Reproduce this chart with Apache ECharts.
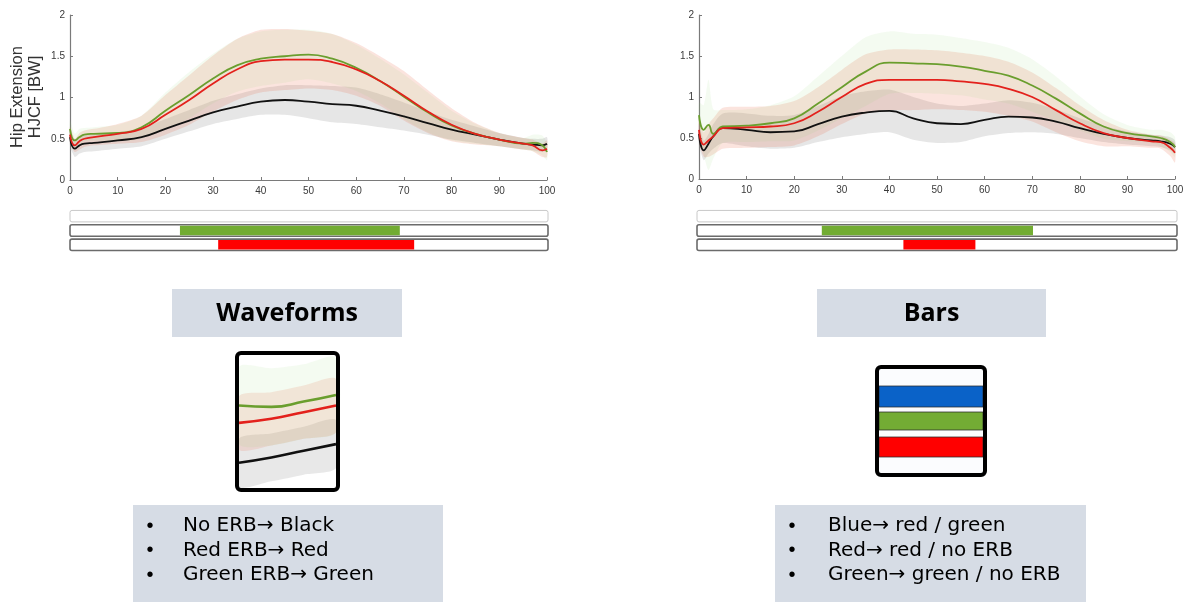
<!DOCTYPE html>
<html>
<head>
<meta charset="utf-8">
<title>Hip Extension HJCF – ERB display</title>
<script src="https://cdn.jsdelivr.net/npm/echarts@6/dist/echarts.min.js"></script>
<style>
  html, body { margin: 0; padding: 0; background: #fff; }
  #chart { width: 1192px; height: 602px; }
</style>
</head>
<body>
<div id="chart"></div>
<script>
// Gait cycle samples (% of cycle)
const cycle = [0, 1, 2, 3, 5, 10, 15, 20, 25, 30, 35, 40, 45, 50, 55, 60, 65, 70, 75, 80, 85, 90, 95, 97, 99, 100];

// Waveforms panel: mean curves [BW] and standard deviations
const waveNoErb    = [0.52,0.38,0.42,0.44,0.45,0.48,0.52,0.62,0.72,0.82,0.89,0.95,0.97,0.95,0.92,0.90,0.84,0.77,0.69,0.61,0.55,0.49,0.44,0.43,0.42,0.44];
const waveRedErb   = [0.55,0.42,0.47,0.50,0.52,0.56,0.62,0.79,0.97,1.17,1.34,1.44,1.46,1.46,1.43,1.34,1.20,1.02,0.83,0.67,0.56,0.49,0.44,0.42,0.36,0.38];
const waveGreenErb = [0.62,0.48,0.52,0.55,0.56,0.57,0.64,0.84,1.03,1.23,1.39,1.47,1.50,1.52,1.47,1.36,1.20,1.01,0.82,0.66,0.56,0.49,0.44,0.45,0.42,0.34];
const waveNoErbSd    = [0.10,0.10,0.10,0.10,0.10,0.10,0.11,0.12,0.13,0.14,0.15,0.16,0.18,0.20,0.22,0.22,0.20,0.17,0.14,0.12,0.10,0.08,0.07,0.07,0.08,0.08];
const waveRedErbSd   = [0.10,0.08,0.10,0.10,0.10,0.12,0.16,0.24,0.30,0.34,0.37,0.38,0.37,0.35,0.34,0.32,0.30,0.30,0.26,0.20,0.13,0.08,0.07,0.07,0.08,0.10];
const waveGreenErbSd = [0.10,0.08,0.10,0.08,0.08,0.10,0.14,0.22,0.28,0.30,0.32,0.33,0.32,0.30,0.30,0.28,0.27,0.27,0.24,0.18,0.12,0.08,0.07,0.10,0.12,0.10];

// Bars panel: mean curves [BW] and standard deviations
const barsNoErb    = [0.55,0.35,0.43,0.52,0.62,0.60,0.57,0.58,0.67,0.76,0.81,0.83,0.74,0.68,0.67,0.72,0.76,0.75,0.70,0.62,0.55,0.50,0.47,0.46,0.43,0.39];
const barsRedErb   = [0.60,0.42,0.47,0.52,0.62,0.63,0.64,0.68,0.82,1.00,1.16,1.21,1.21,1.21,1.19,1.16,1.10,1.00,0.84,0.68,0.56,0.50,0.46,0.45,0.38,0.32];
const barsGreenErb = [0.78,0.60,0.66,0.55,0.64,0.65,0.68,0.74,0.92,1.12,1.31,1.42,1.41,1.40,1.37,1.32,1.26,1.14,0.98,0.80,0.64,0.56,0.52,0.50,0.45,0.39];
const barsNoErbSd    = [0.12,0.12,0.12,0.15,0.18,0.20,0.20,0.20,0.22,0.25,0.26,0.26,0.26,0.24,0.22,0.20,0.20,0.18,0.15,0.12,0.10,0.08,0.07,0.07,0.08,0.08];
const barsRedErbSd   = [0.15,0.15,0.20,0.22,0.25,0.25,0.25,0.27,0.30,0.33,0.36,0.37,0.37,0.36,0.35,0.34,0.33,0.30,0.27,0.22,0.16,0.10,0.08,0.08,0.10,0.12];
const barsGreenErbSd = [0.15,0.30,0.55,0.30,0.20,0.20,0.22,0.27,0.33,0.38,0.42,0.38,0.36,0.36,0.35,0.35,0.34,0.32,0.27,0.21,0.15,0.10,0.08,0.10,0.12,0.12];

// Axis ticks
const xTicks = [0, 10, 20, 30, 40, 50, 60, 70, 80, 90, 100];
const yTicks = [0, 0.5, 1, 1.5, 2];

// Significance bars under each panel: [row, start %, end %] (row 0 = top)
const waveSigGreen = [1, 23, 69];
const waveSigRed   = [2, 31, 72];
const barsSigGreen = [1, 26, 70];
const barsSigRed   = [2, 43, 58];

// Close-up of the waveform display (arbitrary vertical units)
const zoomX        = [0, 1, 2, 3];
const zoomGreen    = [6.2, 6.1, 6.5, 7.0];
const zoomRed      = [4.9, 5.2, 5.7, 6.2];
const zoomBlack    = [1.9, 2.3, 2.8, 3.3];
const zoomGreenSd  = [2.9, 2.9, 2.8, 2.8];
const zoomRedSd    = [2.0, 2.0, 2.0, 2.0];
const zoomBlackSd  = [1.8, 1.8, 1.8, 1.8];

// Explanatory text
const headings = ['Waveforms', 'Bars'];
const waveNotes = ['No ERB\u2192 Black', 'Red ERB\u2192 Red', 'Green ERB\u2192 Green'];
const barsNotes = ['Blue\u2192 red / green', 'Red\u2192 red / no ERB', 'Green\u2192 green / no ERB'];

const COL = {
  black: '#111111',
  red: '#e3211c',
  green: '#6a9e2e',
  bandBlack: 'rgba(120,120,120,0.19)',
  bandRed: 'rgba(236,112,82,0.19)',
  bandGreen: 'rgba(150,212,120,0.10)',
  sigGreen: '#72ac32',
  sigRed: '#ff0000'
};

const pairs = (xs, ys) => xs.map((x, i) => [x, ys[i]]);

// Mean ± SD envelope drawn as one closed polygon through the axis scales
function band(grid, xs, mean, sd, color) {
  return {
    type: 'custom', xAxisIndex: grid, yAxisIndex: grid, silent: true, z: 1,
    data: [[xs[0], mean[0]]],
    renderItem: function (params, api) {
      const pts = [];
      for (let i = 0; i < xs.length; i++) pts.push(api.coord([xs[i], mean[i] + sd[i]]));
      for (let i = xs.length - 1; i >= 0; i--) pts.push(api.coord([xs[i], mean[i] - sd[i]]));
      return { type: 'polygon', shape: { points: pts, smooth: 0.25 }, style: { fill: color } };
    }
  };
}

function curve(name, grid, xs, ys, color, width) {
  return {
    type: 'line', name: name, xAxisIndex: grid, yAxisIndex: grid,
    data: pairs(xs, ys), symbol: 'none', smooth: 0.5,
    lineStyle: { color: color, width: width || 1.8 }, z: 3, silent: true
  };
}

const axisStyle = {
  axisLine: { show: true, onZero: false, lineStyle: { color: '#7a7a7a', width: 1.2 } },
  axisTick: { show: true, inside: true, length: 3, lineStyle: { color: '#7a7a7a' } },
  axisLabel: { color: '#3a3a3a', fontFamily: 'Liberation Sans', fontSize: 10 },
  splitLine: { show: false }
};

function xAxisFor(grid) {
  return Object.assign({ type: 'value', gridIndex: grid, min: 0, max: 100, interval: 10 }, axisStyle,
    { axisLabel: Object.assign({}, axisStyle.axisLabel, { margin: 6, customValues: xTicks }),
      axisTick: Object.assign({}, axisStyle.axisTick, { customValues: xTicks }) });
}
function yAxisFor(grid) {
  return Object.assign({ type: 'value', gridIndex: grid, min: 0, max: 2, interval: 0.5 }, axisStyle,
    { axisLabel: Object.assign({}, axisStyle.axisLabel, { margin: 5, customValues: yTicks }),
      axisTick: Object.assign({}, axisStyle.axisTick, { customValues: yTicks }) });
}

// Significance strip: three outlined rows with a coloured segment
function sigSeries(grid, segs) {
  const rows = [[0, 0, 100, 'frame0'], [1, 0, 100, 'frame'], [2, 0, 100, 'frame']];
  return {
    type: 'custom', xAxisIndex: grid, yAxisIndex: grid, silent: true,
    data: rows.concat(segs),
    renderItem: function (params, api) {
      const row = api.value(0);
      const a = api.coord([api.value(1), row]);
      const b = api.coord([api.value(2), row]);
      const h = api.size([0, 1])[1] * 0.8;
      const kind = api.value(3);
      if (kind === 'frame' || kind === 'frame0') {
        return {
          type: 'rect',
          shape: { x: a[0], y: a[1] - h / 2, width: b[0] - a[0], height: h, r: 2 },
          style: { fill: '#ffffff', stroke: kind === 'frame0' ? '#c8c8c8' : '#6b6b6b', lineWidth: kind === 'frame0' ? 1 : 1.6 }
        };
      }
      return {
        type: 'rect',
        shape: { x: a[0], y: a[1] - h / 2 + 1, width: b[0] - a[0], height: h - 2 },
        style: { fill: kind }
      };
    },
    z: 2
  };
}

const series = [];
// Waveforms panel (grid 0)
series.push(band(0, cycle, waveNoErb, waveNoErbSd, COL.bandBlack));
series.push(band(0, cycle, waveRedErb, waveRedErbSd, COL.bandRed));
series.push(band(0, cycle, waveGreenErb, waveGreenErbSd, COL.bandGreen));
series.push(curve('No ERB', 0, cycle, waveNoErb, COL.black));
series.push(curve('Green ERB', 0, cycle, waveGreenErb, COL.green));
series.push(curve('Red ERB', 0, cycle, waveRedErb, COL.red));
// Bars panel (grid 1)
series.push(band(1, cycle, barsNoErb, barsNoErbSd, COL.bandBlack));
series.push(band(1, cycle, barsRedErb, barsRedErbSd, COL.bandRed));
series.push(band(1, cycle, barsGreenErb, barsGreenErbSd, COL.bandGreen));
series.push(curve('No ERB ', 1, cycle, barsNoErb, COL.black));
series.push(curve('Green ERB ', 1, cycle, barsGreenErb, COL.green));
series.push(curve('Red ERB ', 1, cycle, barsRedErb, COL.red));
// Significance strips (grids 2, 3)
series.push(sigSeries(2, [waveSigGreen.concat([COL.sigGreen]), waveSigRed.concat([COL.sigRed])]));
series.push(sigSeries(3, [barsSigGreen.concat([COL.sigGreen]), barsSigRed.concat([COL.sigRed])]));
// Close-up of waveform display (grid 4)
series.push(band(4, zoomX, zoomBlack, zoomBlackSd, 'rgba(120,120,120,0.17)'));
series.push(band(4, zoomX, zoomRed, zoomRedSd, 'rgba(236,112,82,0.17)'));
series.push(band(4, zoomX, zoomGreen, zoomGreenSd, 'rgba(150,212,120,0.10)'));
series.push(curve('zoom black', 4, zoomX, zoomBlack, COL.black, 2.6));
series.push(curve('zoom green', 4, zoomX, zoomGreen, COL.green, 2.6));
series.push(curve('zoom red', 4, zoomX, zoomRed, COL.red, 2.6));

const hidden = { show: false };
const stripX = g => ({ type: 'value', gridIndex: g, min: 0, max: 100, axisLine: hidden, axisTick: hidden, axisLabel: hidden, splitLine: hidden });
const stripY = g => ({ type: 'value', gridIndex: g, min: -0.5, max: 2.5, inverse: true, axisLine: hidden, axisTick: hidden, axisLabel: hidden, splitLine: hidden });

// Static text and frames
const graphics = [];
graphics.push({
  type: 'text', x: 17, y: 97, rotation: Math.PI / 2, z: 10,
  style: { text: 'Hip Extension', font: '16.5px "Liberation Sans"', fill: '#333', align: 'center', verticalAlign: 'middle' }
});
graphics.push({
  type: 'text', x: 35, y: 97, rotation: Math.PI / 2, z: 10,
  style: { text: 'HJCF [BW]', font: '16.5px "Liberation Sans"', fill: '#333', align: 'center', verticalAlign: 'middle' }
});
function heading(x, w, label) {
  graphics.push({ type: 'rect', shape: { x: x, y: 289, width: w, height: 48 }, style: { fill: '#d6dce5' }, z: 0 });
  graphics.push({ type: 'text', x: x + w / 2, y: 314, z: 1,
    style: { text: label, font: 'bold 25px "Open Sans"', fill: '#000', align: 'center', verticalAlign: 'middle' } });
}
heading(172, 230, headings[0]);
heading(817, 229, headings[1]);

function notes(x, w, bulletX, textX, lines) {
  graphics.push({ type: 'rect', shape: { x: x, y: 505, width: w, height: 97 }, style: { fill: '#d6dce5' }, z: 0 });
  lines.forEach((t, i) => {
    const y = 526 + i * 24.5;
    graphics.push({ type: 'text', x: bulletX, y: y, z: 1,
      style: { text: '\u2022', font: '20px "Liberation Sans"', fill: '#000', align: 'center', verticalAlign: 'middle' } });
    graphics.push({ type: 'text', x: textX, y: y, z: 1,
      style: { text: t, font: '20px "DejaVu Sans"', fill: '#000', align: 'left', verticalAlign: 'middle' } });
  });
}
notes(133, 310, 150, 183, waveNotes);
notes(775, 311, 792, 828, barsNotes);

// Frame around the waveform close-up
graphics.push({ type: 'rect', shape: { x: 237, y: 353, width: 101, height: 137, r: 4 },
  style: { fill: 'none', stroke: '#000', lineWidth: 4 }, z: 20 });

// Legend swatch for the bar display
const swatchTop = 368, swatchLeft = 879, swatchW = 104;
graphics.push({ type: 'rect', shape: { x: swatchLeft, y: swatchTop, width: swatchW, height: 106 }, style: { fill: '#fbfcfe' }, z: 1 });
[[386, 21, '#0a62c8'], [412, 18, '#73ac34'], [437, 20, '#ff0000']].forEach(s => {
  graphics.push({ type: 'rect', shape: { x: swatchLeft, y: s[0], width: swatchW, height: s[1] },
    style: { fill: s[2], stroke: 'rgba(40,40,40,0.75)', lineWidth: 1 }, z: 2 });
});
graphics.push({ type: 'rect', shape: { x: 877, y: 367, width: 108, height: 108, r: 4 },
  style: { fill: 'none', stroke: '#000', lineWidth: 4 }, z: 20 });

const option = {
  animation: false,
  backgroundColor: '#ffffff',
  grid: [
    { left: 70, top: 15, width: 477, height: 165 },
    { left: 699, top: 15, width: 476, height: 164 },
    { left: 70, top: 209, width: 478, height: 43 },
    { left: 697, top: 209, width: 480, height: 43 },
    { left: 239, top: 355, width: 97, height: 133 }
  ],
  xAxis: [
    xAxisFor(0), xAxisFor(1), stripX(2), stripX(3),
    { type: 'value', gridIndex: 4, min: 0, max: 3, axisLine: hidden, axisTick: hidden, axisLabel: hidden, splitLine: hidden }
  ],
  yAxis: [
    yAxisFor(0), yAxisFor(1), stripY(2), stripY(3),
    { type: 'value', gridIndex: 4, min: 0, max: 10, axisLine: hidden, axisTick: hidden, axisLabel: hidden, splitLine: hidden }
  ],
  series: series,
  graphic: graphics
};

const chart = echarts.init(document.getElementById('chart'), null, { renderer: 'canvas' });
chart.setOption(option);
</script>
</body>
</html>
